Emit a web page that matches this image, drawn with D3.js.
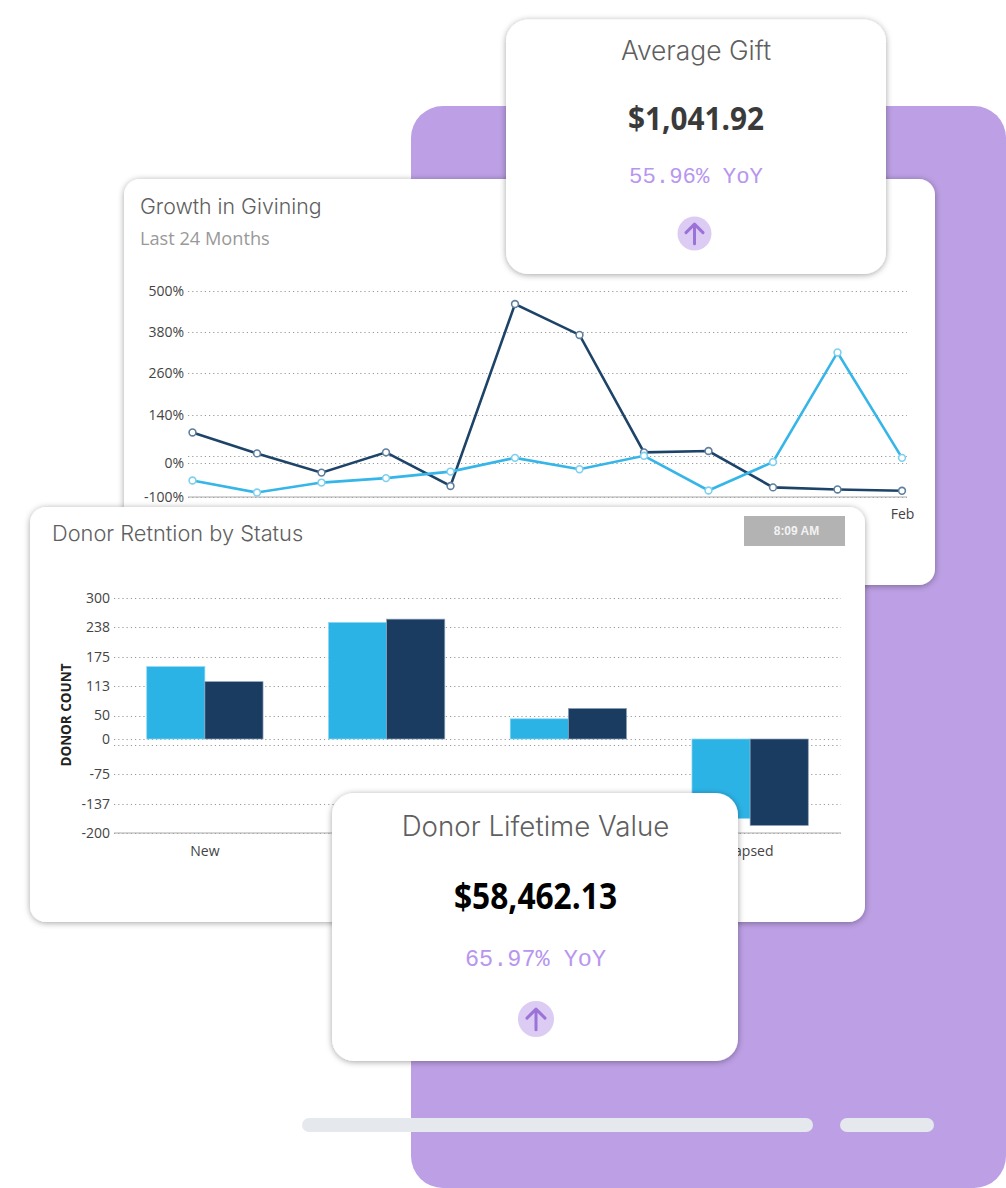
<!DOCTYPE html>
<html>
<head>
<meta charset="utf-8">
<script src="https://cdn.jsdelivr.net/npm/d3@7"></script>
<style>
  html, body { margin: 0; padding: 0; background: #fff; }
  svg { display: block; }
  .tick text { font-family: "Open Sans", sans-serif; font-size: 14px; fill: #444; }
  .title { font-family: Inter, sans-serif; font-weight: 300; fill: #5f5f5f; }
  .big { font-family: "Open Sans", sans-serif; font-weight: 700; text-anchor: middle; }
  .yoy { font-family: "Liberation Mono", monospace; fill: #b896ef; text-anchor: middle; }
</style>
</head>
<body>
<div id="chart"></div>
<script>
// growth in giving
const months = ["Mar", "Apr", "May", "Jun", "Jul", "Aug", "Sep", "Oct", "Nov", "Dec", "Jan", "Feb"];
const visibleMonths = ["Feb"]; // the others sit behind the donor card
const growthDark = [88, 27, -29, 30, -68, 462, 372, 30, 34, -72, -78, -82];
const growthLight = [-52, -87, -58, -45, -26, 14, -19, 20, -81, 2, 321, 14];
const growthTicks = [-100, 0, 20, 140, 260, 380, 500];
const growthLabels = ["-100%", "0%", "", "140%", "260%", "380%", "500%"];

// donor retention
const statuses = ["New", "Retained", "Recovered", "Lapsed"];
const donorLight = [154, 248, 43, -169];
const donorDark = [122, 255, 65, -184];
const donorTicks = [-200, -137.5, -75, -12.5, 0, 50, 112.5, 175, 237.5, 300];
const donorLabels = ["-200", "-137", "-75", "", "0", "50", "113", "175", "238", "300"];

const colorLight = "#2cb3e6";
const colorDark = "#1b3c61";
const purple = "#bc9fe4";

const width = 1006;
const height = 1188;

const svg = d3.select("#chart")
    .append("svg")
    .attr("width", width)
    .attr("height", height);

const filter = svg.append("defs").append("filter")
    .attr("id", "shadow")
    .attr("x", "-10%").attr("y", "-10%")
    .attr("width", "120%").attr("height", "120%");
filter.append("feDropShadow")
    .attr("dx", 0).attr("dy", 1)
    .attr("stdDeviation", 3)
    .attr("flood-color", "#000")
    .attr("flood-opacity", 0.36);

function card(x, y, w, h, r) {
    return svg.append("rect")
        .attr("x", x).attr("y", y)
        .attr("width", w).attr("height", h)
        .attr("rx", r)
        .attr("fill", "#fff")
        .attr("filter", "url(#shadow)");
}

function grid(g, scale, ticks, x0, x1) {
    g.selectAll(".gridline")
        .data(ticks)
        .enter()
        .append("line")
        .attr("class", "gridline")
        .attr("x1", x0).attr("x2", x1)
        .attr("y1", d => Math.round(scale(d)) + 0.5)
        .attr("y2", d => Math.round(scale(d)) + 0.5)
        .attr("stroke", "#999")
        .attr("stroke-dasharray", "1.2 3");
}

function upArrow(cx, cy, r) {
    svg.append("circle")
        .attr("cx", cx).attr("cy", cy).attr("r", r)
        .attr("fill", "#dccbf2");
    svg.append("path")
        .attr("d", `M${cx} ${cy + r * 0.6}V${cy - r * 0.55}M${cx - r * 0.5} ${cy - r * 0.05}L${cx} ${cy - r * 0.55}L${cx + r * 0.5} ${cy - r * 0.05}`)
        .attr("fill", "none")
        .attr("stroke", "#9b72d8")
        .attr("stroke-width", 3)
        .attr("stroke-linecap", "round")
        .attr("stroke-linejoin", "round");
}

function kpi(title, value, yoy, cx, titleY, valueY, yoyY, titleSize, valueSize, valueWidth, yoySize, valueColor) {
    svg.append("text").attr("class", "title")
        .attr("x", cx).attr("y", titleY)
        .attr("text-anchor", "middle")
        .style("font-size", titleSize + "px")
        .text(title);
    svg.append("text").attr("class", "big")
        .attr("x", cx).attr("y", valueY)
        .attr("fill", valueColor)
        .attr("textLength", valueWidth)
        .attr("lengthAdjust", "spacingAndGlyphs")
        .style("font-size", valueSize + "px")
        .text(value);
    svg.append("text").attr("class", "yoy")
        .attr("x", cx).attr("y", yoyY)
        .style("font-size", yoySize + "px")
        .text(yoy);
}

// background panel
svg.append("rect")
    .attr("x", 411).attr("y", 106)
    .attr("width", 595).attr("height", 1082)
    .attr("rx", 32)
    .attr("fill", purple);

/*
GROWTH CARD
*/
card(124, 179, 811, 406, 16);

svg.append("text").attr("class", "title")
    .attr("x", 140).attr("y", 214)
    .style("font-size", "21.3px")
    .text("Growth in Givining");
svg.append("text")
    .attr("x", 140).attr("y", 245)
    .attr("fill", "#999")
    .style("font-family", "'Open Sans', sans-serif")
    .style("font-size", "18.2px")
    .text("Last 24 Months");

const xGrowth = d3.scalePoint()
    .domain(months)
    .range([192.5, 902]);
const yGrowth = d3.scaleLinear()
    .domain([-100, 500])
    .range([497, 291]);

const growth = svg.append("g");
grid(growth, yGrowth, growthTicks, 188, 907);

growth.append("line")
    .attr("x1", 188).attr("x2", 907)
    .attr("y1", 497).attr("y2", 497)
    .attr("stroke", "#aaa");

growth.append("g")
    .attr("transform", "translate(184,0)")
    .call(d3.axisLeft(yGrowth)
        .tickValues(growthTicks)
        .tickSize(0)
        .tickPadding(0)
        .tickFormat((d, i) => growthLabels[i]))
    .call(g => g.select(".domain").remove());

growth.append("g")
    .attr("transform", "translate(0,497)")
    .call(d3.axisBottom(xGrowth).tickValues(visibleMonths).tickSize(0).tickPadding(12))
    .call(g => g.select(".domain").remove());

const growthLine = d3.line()
    .x((d, i) => xGrowth(months[i]))
    .y(d => yGrowth(d));

[[growthDark, "#1d4468", "#5f7f9f"], [growthLight, "#35b5e8", "#7fd0f0"]].forEach(([values, color, ring]) => {
    growth.append("path")
        .datum(values)
        .attr("d", growthLine)
        .attr("fill", "none")
        .attr("stroke", color)
        .attr("stroke-width", 2.6);
    growth.selectAll(null)
        .data(values)
        .enter()
        .append("circle")
        .attr("cx", (d, i) => xGrowth(months[i]))
        .attr("cy", d => yGrowth(d))
        .attr("r", 3.4)
        .attr("fill", "#fff")
        .attr("stroke", ring)
        .attr("stroke-width", 1.6);
});

/*
AVERAGE GIFT CARD
*/
card(506, 19.5, 380, 254.5, 22);
kpi("Average Gift", "$1,041.92", "55.96% YoY", 696, 60, 130, 183, 26.4, 32, 136, 22.3, "#3a3a3a");
upArrow(694.5, 233.5, 17);

/*
DONOR RETENTION CARD
*/
card(30, 507, 835, 415, 16);

svg.append("text").attr("class", "title")
    .attr("x", 52).attr("y", 541)
    .style("font-size", "21.8px")
    .text("Donor Retntion by Status");

svg.append("rect")
    .attr("x", 744).attr("y", 516)
    .attr("width", 101).attr("height", 30)
    .attr("fill", "#b3b3b3");
svg.append("text")
    .attr("x", 796.5).attr("y", 535)
    .attr("text-anchor", "middle")
    .attr("fill", "#f2f2f2")
    .style("font-family", "'Liberation Sans', sans-serif")
    .style("font-weight", "700")
    .style("font-size", "12px")
    .text("8:09 AM");

const xDonor = d3.scaleBand()
    .domain(statuses)
    .range([114, 841])
    .paddingInner(0.36)
    .paddingOuter(0.18);
const xInner = d3.scaleBand()
    .domain(["light", "dark"])
    .range([0, xDonor.bandwidth()]);
const yDonor = d3.scaleLinear()
    .domain([-200, 300])
    .range([833, 598]);

const donor = svg.append("g");
grid(donor, yDonor, donorTicks, 114, 841);

donor.append("line")
    .attr("x1", 114).attr("x2", 841)
    .attr("y1", 833).attr("y2", 833)
    .attr("stroke", "#aaa");

donor.append("g")
    .attr("transform", "translate(110,0)")
    .call(d3.axisLeft(yDonor)
        .tickValues(donorTicks)
        .tickSize(0)
        .tickPadding(0)
        .tickFormat((d, i) => donorLabels[i]))
    .call(g => g.select(".domain").remove());

donor.append("g")
    .attr("transform", "translate(0,833)")
    .call(d3.axisBottom(xDonor).tickSize(0).tickPadding(13))
    .call(g => g.select(".domain").remove());

donor.append("text")
    .attr("transform", "translate(71,715) rotate(-90)")
    .attr("text-anchor", "middle")
    .attr("fill", "#222")
    .style("font-family", "'Open Sans', sans-serif")
    .style("font-weight", "700")
    .style("font-size", "13.5px")
    .text("DONOR COUNT");

[["light", donorLight, colorLight, "#8fd6f2"], ["dark", donorDark, colorDark, "#8aa2ba"]].forEach(([key, values, color, edge]) => {
    donor.selectAll(null)
        .data(values)
        .enter()
        .append("rect")
        .attr("x", (d, i) => xDonor(statuses[i]) + xInner(key))
        .attr("y", d => yDonor(Math.max(d, 0)))
        .attr("width", xInner.bandwidth())
        .attr("height", d => Math.abs(yDonor(d) - yDonor(0)))
        .attr("fill", color)
        .attr("stroke", edge)
        .attr("stroke-width", 0.7);
});

/*
LIFETIME VALUE CARD
*/
card(332, 793, 406, 268, 22);
kpi("Donor Lifetime Value", "$58,462.13", "65.97% YoY", 535.5, 836, 909, 966, 27.7, 35, 163, 23.5, "#000");
upArrow(536, 1019, 18);

/*
PLACEHOLDER BARS
*/
svg.append("rect")
    .attr("x", 302).attr("y", 1118)
    .attr("width", 511).attr("height", 14)
    .attr("rx", 7)
    .attr("fill", "#e5e9ee");
svg.append("rect")
    .attr("x", 840).attr("y", 1118)
    .attr("width", 94).attr("height", 14)
    .attr("rx", 7)
    .attr("fill", "#e5e9ee");
</script>
</body>
</html>
